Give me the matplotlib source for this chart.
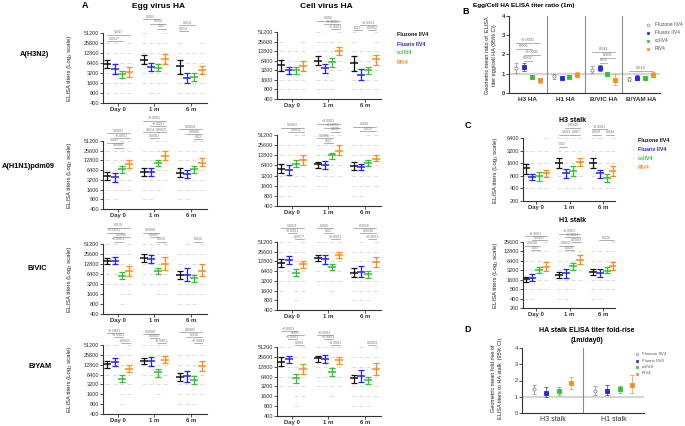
import matplotlib.pyplot as plt
import numpy as np

plt.rcParams['font.family'] = ['Liberation Sans', 'DejaVu Sans']

vaccines = ['Fluzone IIV4', 'Fluarix IIV4', 'ccIIV4', 'RIV4']
colors = ['#111111', '#2323f5', '#2ec42e', '#ff8c1a']
timepoints = ['Day 0', '1 m', '6 m']
strains = ['A(H3N2)', 'A(H1N1)pdm09', 'B/VIC', 'B/YAM']
ha_ticks = [400, 800, 1600, 3200, 6400, 12800, 25600, 51200]
h3_stalk_ticks = [200, 400, 800, 1600, 3200, 6400]
h1_stalk_ticks = [200, 400, 800, 1600, 3200, 6400, 12800, 25600]

# geometric mean titers, rows = Day 0 / 1 m / 6 m, columns = vaccines
egg_h3n2 = [[6100, 4100, 2900, 3400], [8100, 4800, 4600, 8600], [5100, 2300, 2500, 4000]]
egg_h3n2_lo = [[4600, 3000, 2300, 2400], [6100, 3700, 3600, 6100], [2900, 1600, 1900, 2900]]
egg_h3n2_hi = [[7700, 5800, 3700, 4800], [10900, 6400, 6100, 12000], [8100, 3200, 3200, 5300]]

cell_h3n2 = [[4800, 3200, 3200, 4500], [6400, 3700, 5700, 13400], [5400, 2300, 3200, 7200]]
cell_h3n2_lo = [[3150, 2500, 2500, 3150], [4800, 2700, 4200, 9900], [3150, 1600, 2500, 4800]]
cell_h3n2_hi = [[6900, 4200, 4200, 6400], [8700, 5100, 7800, 17900], [8700, 3400, 4200, 9900]]

egg_h1n1 = [[4300, 3800, 6900, 10000], [5800, 5700, 10500, 17900], [5400, 4800, 6900, 11000]]
egg_h1n1_lo = [[3200, 2800, 5200, 7400], [4300, 4300, 8300, 12900], [3900, 3600, 5400, 8300]]
egg_h1n1_hi = [[5800, 5200, 8700, 13300], [7400, 7700, 13300, 24400], [7400, 6300, 8700, 14700]]

cell_h1n1 = [[5100, 4600, 7200, 9000], [6900, 6700, 12800, 17700], [6000, 5700, 7600, 10000]]
cell_h1n1_lo = [[3800, 3400, 5700, 6400], [5500, 5100, 10200, 12800], [4600, 4600, 6100, 8400]]
cell_h1n1_hi = [[6900, 6400, 9500, 12800], [8000, 8600, 15000, 25000], [8000, 7200, 9500, 13400]]

egg_bvic = [[15800, 16100, 5700, 8100], [19000, 18100, 8100, 12800], [6000, 6000, 4700, 8100]]
egg_bvic_lo = [[12800, 12800, 4400, 5600], [15100, 14100, 6600, 8400], [4500, 4000, 3800, 5600]]
egg_bvic_hi = [[19800, 21300, 7600, 11400], [25200, 24000, 9900, 20300], [7900, 9500, 6000, 12500]]

cell_bvic = [[11700, 13700, 5800, 10400], [16400, 15300, 8900, 20500], [5800, 6200, 5200, 12500]]
cell_bvic_lo = [[8800, 10300, 4400, 7800], [13100, 10400, 7000, 16400], [4100, 4100, 3900, 8700]]
cell_bvic_hi = [[15600, 18300, 7300, 13100], [19700, 20500, 10900, 25700], [8200, 9200, 6500, 17300]]

egg_byam = [[13100, 15400, 4800, 9800], [16400, 16400, 7500, 18400], [5400, 5800, 4300, 11400]]
egg_byam_lo = [[10200, 11400, 3700, 7500], [13700, 11700, 5400, 14700], [4100, 3800, 3300, 8200]]
egg_byam_hi = [[16800, 20200, 6300, 12800], [20200, 22600, 9800, 24000], [7000, 8500, 5600, 16400]]

cell_byam = [[18300, 21500, 5800, 10800], [23400, 22300, 9000, 20600], [5600, 6600, 5000, 10800]]
cell_byam_lo = [[13700, 16200, 4200, 7900], [18300, 16200, 6800, 15500], [4200, 4500, 3700, 7200]]
cell_byam_hi = [[24700, 28000, 7900, 15000], [28000, 29100, 11900, 26000], [7400, 10100, 6300, 16200]]

h3_stalk = [[1200, 740, 790, 910], [1630, 910, 1030, 1690], [1630, 910, 720, 1030]]
h3_stalk_lo = [[890, 620, 600, 740], [1240, 690, 790, 1360], [1200, 720, 580, 790]]
h3_stalk_hi = [[1560, 860, 980, 1130], [2140, 1170, 1360, 2140], [2140, 1130, 890, 1360]]

h1_stalk = [[1720, 1860, 3220, 4070], [2250, 2540, 4270, 7050], [2870, 2680, 3140, 4480]]
h1_stalk_lo = [[1350, 1450, 2530, 3010], [1760, 1760, 3320, 4940], [2250, 1940, 2540, 3320]]
h1_stalk_hi = [[1960, 2360, 4000, 5860], [2870, 3570, 5450, 10100], [3570, 3570, 3960, 5680]]

# egg/cell ratio at 1 m, rows = HA, columns = vaccines
ratio_groups = ['H3 HA', 'H1 HA', 'B/VIC HA', 'B/YAM HA']
ratio = [[1.30, 1.35, 0.85, 0.65], [0.88, 0.80, 0.85, 0.95], [1.20, 1.30, 0.97, 0.68], [0.72, 0.80, 0.80, 0.95]]
ratio_lo = [[1.05, 1.15, 0.75, 0.50], [0.75, 0.72, 0.77, 0.85], [1.05, 1.12, 0.87, 0.40], [0.63, 0.70, 0.72, 0.85]]
ratio_hi = [[1.55, 1.55, 0.95, 0.80], [1.00, 0.90, 0.93, 1.08], [1.40, 1.48, 1.08, 1.00], [0.83, 0.92, 0.88, 1.07]]

# stalk fold-rise 1m/day0
fold_groups = ['H3 stalk', 'H1 stalk']
fold = [[1.45, 1.24, 1.37, 1.82], [1.37, 1.37, 1.45, 1.72]]
fold_lo = [[1.14, 1.00, 1.10, 1.45], [1.10, 1.10, 1.24, 1.26]]
fold_hi = [[1.72, 1.58, 1.62, 2.24], [1.66, 1.72, 1.66, 2.34]]

# significance brackets: (timepoint, vaccine a, vaccine b, height above top tick in doublings, p)
egg_h3n2_br = [(0, 0, 3, -0.17, '0.047'), (0, 0, 2, -0.8, '0.0037'), (1, 0, 2, 1.37, '0.002'),
               (1, 1, 3, 0.9, '0.002'), (1, 2, 3, 0.43, '0.02'), (2, 0, 2, 0.8, '0.014'), (2, 0, 1, 0.2, '0.013')]
cell_h3n2_br = [(1, 0, 3, 1.2, '0.006'), (1, 1, 3, 0.8, '<0.0001'), (1, 2, 3, 0.3, '<0.0001'),
                (2, 1, 3, 0.7, '<0.0001'), (2, 0, 1, 0.2, '0.02'), (2, 2, 3, 0.2, '0.0002')]
egg_h1n1_br = [(0, 0, 3, 0.8, '0.0001'), (0, 1, 3, 0.3, '<0.0001'), (0, 0, 2, -0.2, '0.041'),
               (0, 1, 2, -0.7, '0.0089'), (1, 0, 3, 2.1, '<0.0001'), (1, 1, 3, 1.5, '<0.0001'),
               (1, 0, 2, 0.9, '0.014'), (1, 2, 3, 0.9, '0.0029'), (1, 1, 2, 0.3, '0.0082'),
               (2, 0, 3, 1.2, '0.0059'), (2, 1, 3, 0.7, '0.0095'), (2, 2, 3, 0.2, '0.03')]
cell_h1n1_br = [(0, 0, 3, 0.7, '0.0063'), (0, 1, 3, 0.25, '0.0011'), (1, 0, 3, 1.1, '<0.0001'),
                (1, 1, 3, 0.7, '<0.0001'), (1, 2, 3, 0.3, '0.009'), (1, 0, 2, -0.3, '0.0086'),
                (1, 1, 2, -0.8, '0.03'), (2, 0, 3, 0.8, '0.049'), (2, 1, 3, 0.35, '0.015')]
egg_bvic_br = [(0, 0, 3, 1.6, '0.019'), (0, 0, 2, 1.1, '<0.0001'), (0, 1, 3, 0.7, '0.0086'),
               (0, 1, 2, 0.2, '<0.0001'), (1, 0, 2, 1.1, '0.0004'), (1, 1, 2, 0.7, '0.0007'),
               (1, 2, 3, 0.2, '0.026'), (2, 2, 3, 0.2, '0.015')]
cell_bvic_br = [(0, 0, 3, 1.4, '0.0011'), (0, 1, 2, 0.9, '<0.0001'), (0, 2, 3, 0.3, '0.0077'),
                (1, 0, 2, 1.4, '0.005'), (1, 1, 2, 0.9, '0.02'), (1, 2, 3, 0.3, '<0.0001'),
                (2, 0, 3, 1.4, '0.0016'), (2, 1, 3, 0.9, '0.0038'), (2, 2, 3, 0.3, '<0.0001')]
egg_byam_br = [(0, 0, 2, 1.2, '<0.0001'), (0, 1, 2, 0.8, '<0.0001'), (0, 2, 3, 0.2, '0.0021'),
               (1, 0, 2, 1.1, '0.0008'), (1, 1, 2, 0.7, '0.0003'), (1, 2, 3, 0.2, '<0.0001'),
               (2, 0, 3, 1.3, '0.0081'), (2, 1, 3, 0.8, '0.036'), (2, 2, 3, 0.2, '<0.0001')]
cell_byam_br = [(0, 0, 2, 1.6, '<0.0001'), (0, 1, 3, 1.2, '0.005'), (0, 1, 2, 0.8, '<0.0001'),
                (0, 2, 3, 0.2, '0.004'), (1, 0, 2, 1.2, '<0.0001'), (1, 1, 2, 0.8, '<0.0001'),
                (1, 2, 3, 0.2, '<0.0001'), (2, 2, 3, 0.2, '0.0003')]
h3_stalk_br = [(1, 1, 3, 0.8, '0.0049'), (1, 0, 2, 0.25, '0.003'), (1, 2, 3, 0.25, '0.007'),
               (1, 0, 1, -0.7, '0.02'), (2, 0, 2, 0.7, '<0.0001'), (2, 0, 1, 0.25, '0.028'),
               (2, 2, 3, 0.25, '0.044')]
h1_stalk_br = [(0, 0, 3, 0.6, '<0.0001'), (0, 1, 3, 0.2, '0.0001'), (0, 0, 2, -0.4, '0.0038'),
               (0, 1, 2, -0.9, '0.03'), (1, 0, 3, 0.9, '<0.0001'), (1, 1, 3, 0.5, '<0.0001'),
               (1, 2, 3, 0.0, '0.0003'), (1, 0, 2, -0.4, '0.0017'), (1, 1, 2, -0.9, '0.029'),
               (2, 1, 3, 0.2, '0.026')]
ratio_br = [(0, 0, 3, 2.6, '<0.0001'), (0, 0, 2, 2.29, '0.005'), (0, 1, 3, 1.97, '<0.0001'),
            (0, 1, 2, 1.66, '0.002'), (2, 0, 3, 2.13, '0.041'), (2, 1, 3, 1.82, '0.005'),
            (2, 1, 2, 1.56, '0.03'), (3, 0, 3, 1.14, '0.016')]

W, H = 685, 426
fig = plt.figure(figsize=(W / 100, H / 100), dpi=100)
offsets = np.array([-0.3, -0.1, 0.1, 0.3])
ink = '#333333'


def px_axes(l, t, r, b):
    return fig.add_axes([l / W, 1 - b / H, (r - l) / W, (b - t) / H])


def ftext(x, y, s, **kw):
    return fig.text(x / W, 1 - y / H, s, **kw)


def style(ax, fs=4.0, bold_y=False):
    for side in ['top', 'right']:
        ax.spines[side].set_visible(False)
    for side in ['left', 'bottom']:
        ax.spines[side].set_color(ink)
        ax.spines[side].set_linewidth(0.8)
    ax.tick_params(length=2, width=0.6, pad=1, colors=ink, labelsize=fs)
    if bold_y:
        for lab in ax.get_yticklabels():
            lab.set_fontweight('bold')


def titer_panel(rect, gmt, lo, hi, ticks, brackets, xlim=(-0.42, 2.45)):
    ax = px_axes(*rect)
    gmt, lo, hi = (np.array(a, float) for a in (gmt, lo, hi))
    ax.set_yscale('log', base=2)
    ax.set_ylim(ticks[0], ticks[-1])
    ax.set_xlim(*xlim)
    for k in range(4):
        xs = np.arange(3) + offsets[k]
        for t in range(3):
            lv = [v for v in ticks if lo[t, k] / 6 <= v <= hi[t, k] * 6]
            ax.plot([xs[t]] * len(lv), lv, ls='none', marker='_', ms=2.6, mew=0.6,
                    color='#d6d6d6', zorder=1, clip_on=False)
        ax.errorbar(xs, gmt[:, k], yerr=[gmt[:, k] - lo[:, k], hi[:, k] - gmt[:, k]], fmt='none',
                    ecolor=colors[k], elinewidth=0.9, capsize=2.5, capthick=0.9, zorder=3)
        ax.plot(xs, gmt[:, k], ls='none', marker='_', ms=5.8, mew=1.1, color=colors[k], zorder=4)
    ax.set_yticks(ticks)
    ax.set_yticklabels([str(v) for v in ticks])
    ax.yaxis.set_minor_locator(plt.NullLocator())
    ax.set_xticks(range(3))
    ax.set_xticklabels(timepoints, fontweight='bold')
    style(ax)
    for lab in ax.get_xticklabels():
        lab.set_fontsize(4.3)
    for t, i, j, lift, label in brackets:
        x0, x1 = t + offsets[i] - 0.02, t + offsets[j] + 0.02
        y = ticks[-1] * 2 ** lift
        ax.plot([x0, x1], [y, y], color='#909090', lw=0.5, clip_on=False, zorder=2)
        ax.text((x0 + x1) / 2, y * 2 ** 0.05, label, fontsize=2.6, color='#7a7a7a',
                ha='center', va='bottom', clip_on=False)
    return ax


def ci_panel(rect, vals, lo, hi, groups, ylim_top, offs):
    ax = px_axes(*rect)
    vals, lo, hi = (np.array(a, float) for a in (vals, lo, hi))
    n = len(groups)
    ax.set_xlim(-0.5, n - 0.5)
    ax.set_ylim(0, ylim_top)
    ax.axhline(1, color='#d6d6d6', lw=1.6, zorder=0)
    for g in range(n - 1):
        ax.axvline(g + 0.5, color='#8a8a8a', lw=0.8, zorder=0)
    for k in range(4):
        xs = np.arange(n) + offs[k]
        c = '#8a8a8a' if k == 0 else colors[k]
        ax.errorbar(xs, vals[:, k], yerr=[vals[:, k] - lo[:, k], hi[:, k] - vals[:, k]], fmt='none',
                    ecolor=c, elinewidth=0.6, capsize=1.2, capthick=0.6, zorder=3, alpha=0.8)
        ax.plot(xs, vals[:, k], ls='none', marker='o' if k == 0 else 's', ms=2.3,
                mfc='white' if k == 0 else c, mec=c, mew=0.6, zorder=4)
    ax.set_yticks(range(ylim_top + 1))
    ax.set_xticks(range(n))
    ax.set_xticklabels(groups)
    return ax


# ---- panel A ----
egg_sets = [(egg_h3n2, egg_h3n2_lo, egg_h3n2_hi, egg_h3n2_br),
            (egg_h1n1, egg_h1n1_lo, egg_h1n1_hi, egg_h1n1_br),
            (egg_bvic, egg_bvic_lo, egg_bvic_hi, egg_bvic_br),
            (egg_byam, egg_byam_lo, egg_byam_hi, egg_byam_br)]
cell_sets = [(cell_h3n2, cell_h3n2_lo, cell_h3n2_hi, cell_h3n2_br),
             (cell_h1n1, cell_h1n1_lo, cell_h1n1_hi, cell_h1n1_br),
             (cell_bvic, cell_bvic_lo, cell_bvic_hi, cell_bvic_br),
             (cell_byam, cell_byam_lo, cell_byam_hi, cell_byam_br)]
egg_rects = [(103, 33, 207, 103), (103, 141, 207, 209), (103, 244, 207, 314), (103, 345, 207, 414)]
cell_rects = [(277, 32, 381, 99), (277, 135, 381, 206), (277, 242, 381, 310), (277, 347, 381, 416)]
row_label_pos = [(34, 55), (28, 167), (37, 268), (40, 367)]

for r in range(4):
    g, lo, hi, br = egg_sets[r]
    titer_panel(egg_rects[r], g, lo, hi, ha_ticks, br)
    g, lo, hi, br = cell_sets[r]
    titer_panel(cell_rects[r], g, lo, hi, ha_ticks, br)
    x, y = row_label_pos[r]
    ftext(x, y, strains[r], fontsize=5.3, fontweight='bold', ha='center', va='center')
    l, t, rr, b = egg_rects[r]
    ftext(70, (t + b) / 2, 'ELISA titers (Log₂ scale)', fontsize=4.3, rotation=90,
          ha='center', va='center', color='#222222')

ftext(85, 6, 'A', fontsize=6.5, fontweight='bold', ha='center', va='center')
ftext(159, 6, 'Egg virus HA', fontsize=6, fontweight='bold', ha='center', va='center')
ftext(326, 6, 'Cell virus HA', fontsize=6, fontweight='bold', ha='center', va='center')

for k in range(4):
    y = 35 + 9 * k
    ftext(391, y, '·', fontsize=4, color='#aaaaaa', ha='center', va='center')
    ftext(397, y, vaccines[k], fontsize=3.8, fontweight='bold', color=colors[k], va='center')

# ---- panel B ----
b_offs = [-0.31, -0.1, 0.1, 0.31]
axb = ci_panel((509, 16, 660, 93), ratio, ratio_lo, ratio_hi, ratio_groups, 4, b_offs)
style(axb, fs=4.2, bold_y=True)
for lab in axb.get_xticklabels():
    lab.set_fontweight('bold')
    lab.set_fontsize(4.6)
axb.tick_params(axis='x', length=0, pad=3)
for g, i, j, yv, label in ratio_br:
    x0, x1 = g + b_offs[i], g + b_offs[j]
    axb.plot([x0, x1], [yv, yv], color='#909090', lw=0.5, zorder=2)
    axb.text((x0 + x1) / 2, yv + 0.04, label, fontsize=2.8, color='#6a6a6a', ha='center', va='bottom')
ftext(466, 12, 'B', fontsize=6.5, fontweight='bold', ha='center', va='center')
ftext(524, 5, 'Egg/Cell HA ELISA titer ratio (1m)', fontsize=4.6, fontweight='bold', ha='center', va='center')
ftext(491, 55, 'Geometric mean ratio of  ELISA\ntiter egg/cell HA (95% CI)', fontsize=4.0,
      rotation=90, ha='center', va='center', color='#222222', linespacing=1.3)
for k in range(4):
    y = 25 + 8 * k
    c = '#8a8a8a' if k == 0 else colors[k]
    fig.lines.append(plt.Line2D([648 / W], [1 - y / H], transform=fig.transFigure, ls='none',
                                marker='o' if k == 0 else 's', ms=2, mfc='white' if k == 0 else c,
                                mec=c, mew=0.5))
    ftext(655, y, vaccines[k], fontsize=3.5, color='#555555', va='center')

# ---- panel C ----
axc1 = titer_panel((523, 138, 615, 201), h3_stalk, h3_stalk_lo, h3_stalk_hi, h3_stalk_ticks,
                   h3_stalk_br, xlim=(-0.38, 2.35))
axc2 = titer_panel((523, 242, 615, 308), h1_stalk, h1_stalk_lo, h1_stalk_hi, h1_stalk_ticks,
                   h1_stalk_br, xlim=(-0.38, 2.35))
ftext(468, 125, 'C', fontsize=6.5, fontweight='bold', ha='center', va='center')
ftext(573, 120, 'H3 stalk', fontsize=5, fontweight='bold', ha='center', va='center')
ftext(573, 220, 'H1 stalk', fontsize=5, fontweight='bold', ha='center', va='center')
ftext(495, 170, 'ELISA titers (Log₂ scale)', fontsize=4.3, rotation=90, ha='center', va='center',
      color='#222222')
ftext(495, 275, 'ELISA titers (Log₂ scale)', fontsize=4.3, rotation=90, ha='center', va='center',
      color='#222222')
for k in range(4):
    y = 141 + 8.7 * k
    ftext(633, y, '·', fontsize=4, color='#aaaaaa', ha='center', va='center')
    ftext(638, y, vaccines[k], fontsize=3.8, fontweight='bold', color=colors[k], va='center')

# ---- panel D ----
axd = ci_panel((522, 348, 644, 413), fold, fold_lo, fold_hi, fold_groups, 4, offsets)
style(axd, fs=4.0)
for lab in axd.get_xticklabels():
    lab.set_fontsize(5)
axd.tick_params(axis='x', length=0, pad=2)
ftext(468, 330, 'D', fontsize=6.5, fontweight='bold', ha='center', va='center')
ftext(587, 330, 'HA stalk ELISA titer fold-rise', fontsize=5, fontweight='bold', ha='center', va='center')
ftext(587, 340, '(1m/day0)', fontsize=5, fontweight='bold', ha='center', va='center')
ftext(497, 378, 'Geometric mean fold rise of\nELISA titers to HA stalk  (95% CI)', fontsize=4.0,
      rotation=90, ha='center', va='center', color='#222222', linespacing=1.3)
for k in range(4):
    y = 354 + 6.5 * k
    c = '#8a8a8a' if k == 0 else colors[k]
    fig.lines.append(plt.Line2D([637 / W], [1 - y / H], transform=fig.transFigure, ls='none',
                                marker='o' if k == 0 else 's', ms=1.8, mfc='white' if k == 0 else c,
                                mec=c, mew=0.5))
    ftext(642, y, vaccines[k], fontsize=3.2, color='#555555', va='center')

fig.savefig('out.png', dpi=100)
